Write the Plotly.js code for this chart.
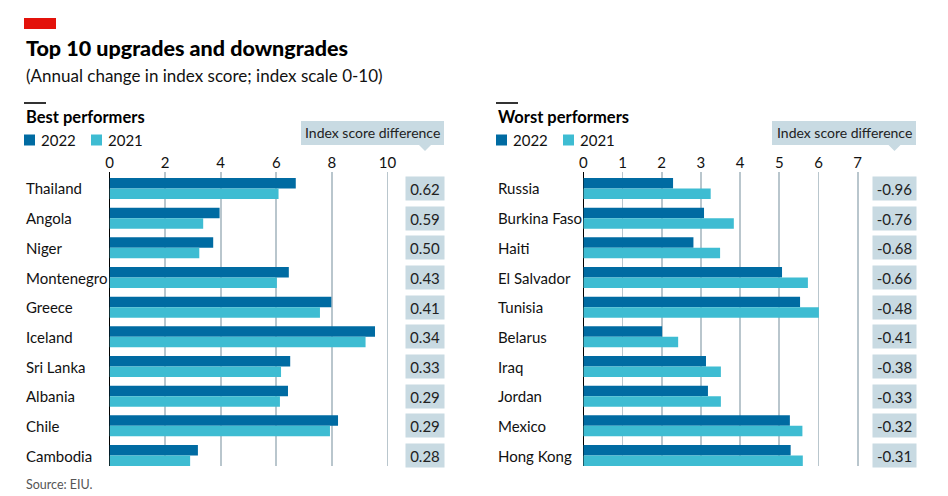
<!DOCTYPE html>
<html>
<head>
<meta charset="utf-8">
<script src="https://cdn.plot.ly/plotly-3.0.1.min.js"></script>
<style>
html,body{margin:0;padding:0;background:#fff;}
#chart{width:948px;height:496px;}
</style>
</head>
<body>
<div id="chart"></div>
<script>
// ---- Data ----
const titleText = "Top 10 upgrades and downgrades";
const subtitleText = "(Annual change in index score; index scale 0-10)";
const sourceText = "Source: EIU.";
const seriesNames = ["2022", "2021"];
const diffHeader = "Index score difference";

const bestTitle = "Best performers";
const bestCountries = ["Thailand","Angola","Niger","Montenegro","Greece","Iceland","Sri Lanka","Albania","Chile","Cambodia"];
const best2022 = [6.70, 3.96, 3.73, 6.45, 7.98, 9.55, 6.50, 6.42, 8.22, 3.18];
const best2021 = [6.08, 3.37, 3.23, 6.02, 7.57, 9.21, 6.17, 6.13, 7.93, 2.90];
const bestDiff = ["0.62","0.59","0.50","0.43","0.41","0.34","0.33","0.29","0.29","0.28"];
const bestTicks = [0, 2, 4, 6, 8, 10];

const worstTitle = "Worst performers";
const worstCountries = ["Russia","Burkina Faso","Haiti","El Salvador","Tunisia","Belarus","Iraq","Jordan","Mexico","Hong Kong"];
const worst2022 = [2.29, 3.08, 2.81, 5.07, 5.53, 2.01, 3.13, 3.18, 5.27, 5.29];
const worst2021 = [3.25, 3.84, 3.49, 5.73, 6.01, 2.42, 3.51, 3.51, 5.59, 5.60];
const worstDiff = ["-0.96","-0.76","-0.68","-0.66","-0.48","-0.41","-0.38","-0.33","-0.32","-0.31"];
const worstTicks = [0, 1, 2, 3, 4, 5, 6, 7];

// ---- Styling ----
const W = 948, H = 496;
const px = x => x / W;
const py = y => 1 - y / H;
const FONT = "Lato, 'Noto Sans', sans-serif";
const C22 = "#006ba2", C21 = "#3ebcd2", BOX = "#c8dae2", GRID = "#b9c6cd", TXT = "#111";

const traces = [
  {type:"bar", orientation:"h", name:seriesNames[0], y:bestCountries, x:best2022, marker:{color:C22}, xaxis:"x", yaxis:"y", hoverinfo:"x+y"},
  {type:"bar", orientation:"h", name:seriesNames[1], y:bestCountries, x:best2021, marker:{color:C21}, xaxis:"x", yaxis:"y", hoverinfo:"x+y"},
  {type:"bar", orientation:"h", name:seriesNames[0], y:worstCountries, x:worst2022, marker:{color:C22}, xaxis:"x2", yaxis:"y2", hoverinfo:"x+y"},
  {type:"bar", orientation:"h", name:seriesNames[1], y:worstCountries, x:worst2021, marker:{color:C21}, xaxis:"x2", yaxis:"y2", hoverinfo:"x+y"}
];

const yDom = [py(466), py(172)];
const xCommon = {
  side:"top", showgrid:true, gridcolor:GRID, gridwidth:1.8,
  zeroline:true, zerolinecolor:"#000", zerolinewidth:1.5,
  showline:false, ticks:"", tickfont:{family:FONT, size:15, color:TXT},
  tickmode:"array", fixedrange:true
};
const yCommon = {type:"category", showticklabels:false, showgrid:false, zeroline:false, showline:false, ticks:"", domain:yDom, fixedrange:true};

const annotations = [];
const shapes = [];

function txt(x, y, text, size, opts) {
  annotations.push(Object.assign({
    xref:"paper", yref:"paper", x:px(x), y:py(y), text:text, showarrow:false,
    xanchor:"left", yanchor:"middle", font:{family:FONT, size:size, color:TXT}
  }, opts || {}));
}
function rect(x0, y0, x1, y1, color) {
  shapes.push({type:"rect", xref:"paper", yref:"paper", x0:px(x0), x1:px(x1), y0:py(y1), y1:py(y0), fillcolor:color, line:{width:0}, layer:"above"});
}

// header
rect(24, 18, 56, 29, "#e3120b");
txt(24, 48, titleText, 21.5, {font:{family:FONT, size:21.5, color:"#000", weight:900}});
txt(24, 76, subtitleText, 17);
txt(24, 484, sourceText, 12.5, {font:{family:FONT, size:12.5, color:"#555"}});

function panel(left, title, countries, diffs, yref, boxCx, boxW, hdrX0, hdrX1) {
  shapes.push({type:"line", xref:"paper", yref:"paper", x0:px(left), x1:px(left+22), y0:py(103), y1:py(103), line:{color:"#000", width:1.6}});
  txt(left, 117, title, 16.5, {font:{family:FONT, size:16.5, color:"#000", weight:700}});
  rect(left, 134.5, left+11, 145.5, C22);
  txt(left+15, 140.5, seriesNames[0], 15);
  rect(left+67, 134.5, left+78, 145.5, C21);
  txt(left+82, 140.5, seriesNames[1], 15);
  // header box
  rect(hdrX0, 121, hdrX1, 145, BOX);
  shapes.push({type:"path", xref:"paper", yref:"paper", fillcolor:BOX, line:{width:0}, layer:"above",
    path:"M " + px(boxCx-6) + " " + py(145) + " L " + px(boxCx+6) + " " + py(145) + " L " + px(boxCx) + " " + py(151) + " Z"});
  txt((hdrX0+hdrX1)/2, 133, diffHeader, 14, {xanchor:"center", font:{family:FONT, size:14, color:"#222"}});
  countries.forEach((c, i) => {
    annotations.push({xref:"paper", yref:yref, x:px(left), y:c, text:c, showarrow:false, xanchor:"left", yanchor:"middle",
      font:{family:FONT, size:15, color:TXT}});
    annotations.push({xref:"paper", yref:yref, x:px(boxCx), y:c, text:diffs[i], showarrow:false, xanchor:"center", yanchor:"middle",
      bgcolor:BOX, width:boxW, height:23, borderpad:0, font:{family:FONT, size:15, color:"#222"}});
  });
}
panel(24, bestTitle, bestCountries, bestDiff, "y", 425, 38, 301, 444);
panel(496, worstTitle, worstCountries, worstDiff, "y2", 894.5, 43, 772, 916);

const layout = {
  width:W, height:H, margin:{l:0, r:0, t:0, b:0},
  paper_bgcolor:"#fff", plot_bgcolor:"rgba(0,0,0,0)",
  showlegend:false, barmode:"group", bargap:0.29, bargroupgap:0,
  font:{family:FONT, color:TXT},
  xaxis:Object.assign({}, xCommon, {domain:[px(109.5), px(390.3)], range:[0, 10.1], tickvals:bestTicks, anchor:"y"}),
  yaxis:Object.assign({}, yCommon, {range:[9.354, -0.556], anchor:"x"}),
  xaxis2:Object.assign({}, xCommon, {domain:[px(583.3), px(861.6)], range:[0, 7.1], tickvals:worstTicks, anchor:"y2"}),
  yaxis2:Object.assign({}, yCommon, {range:[9.354, -0.556], anchor:"x2"}),
  annotations:annotations, shapes:shapes
};

Plotly.newPlot("chart", traces, layout, {displayModeBar:false, staticPlot:true});
</script>
</body>
</html>
